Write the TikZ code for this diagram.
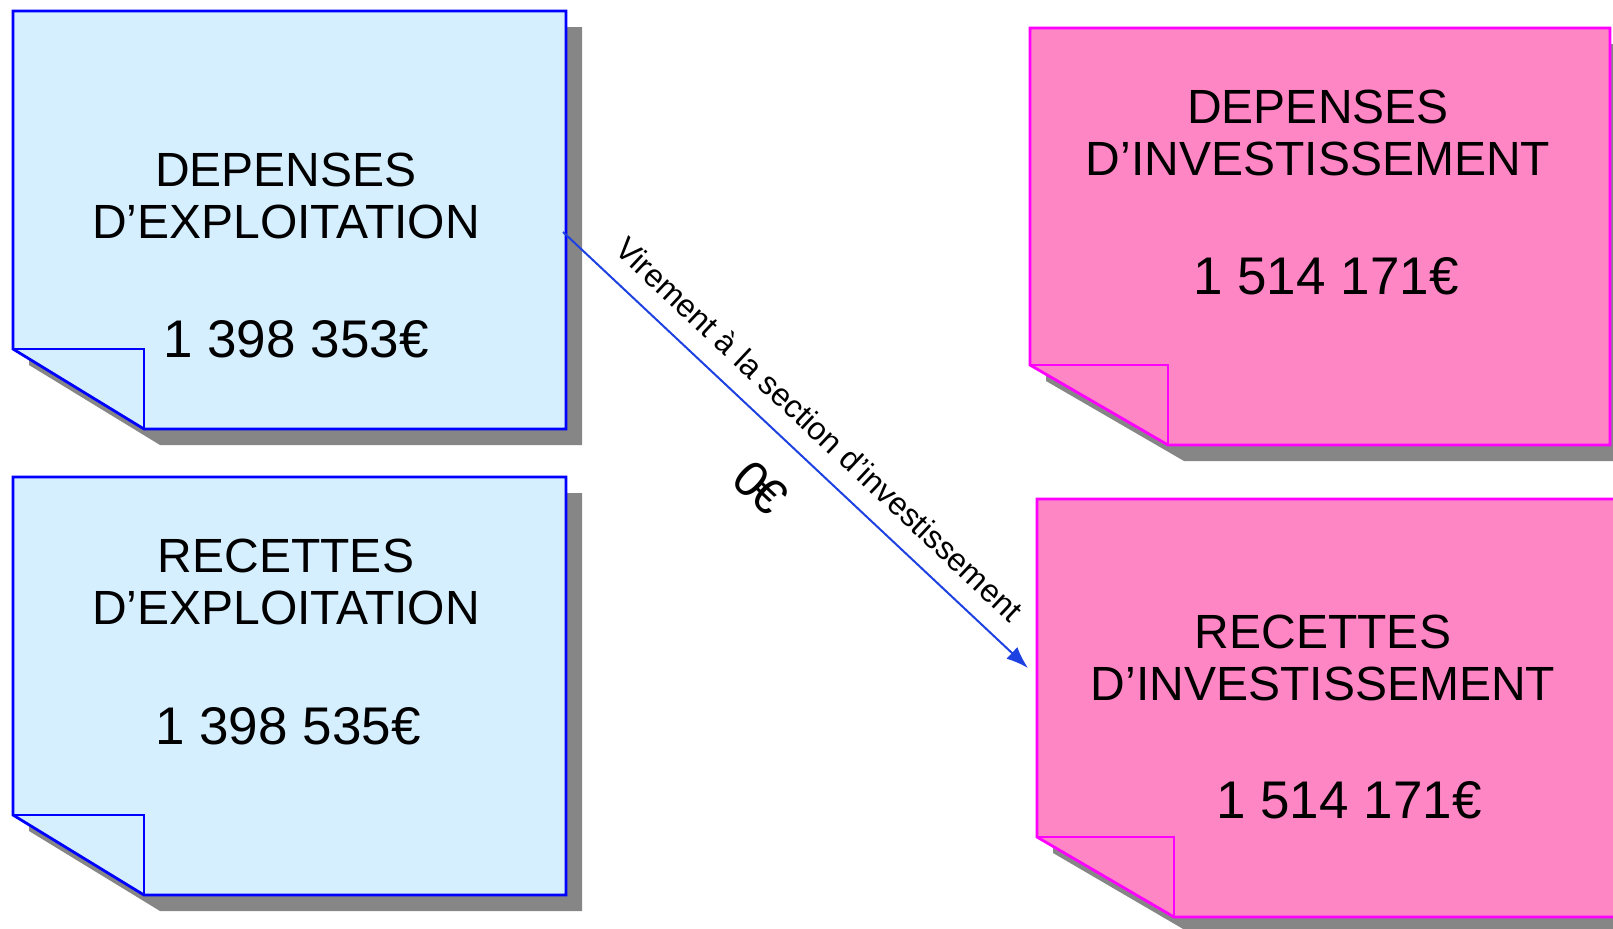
\documentclass[tikz,border=0pt]{standalone}
\usepackage{fontspec}
\setmainfont{Liberation Sans}
\usepackage{tikz}
\usetikzlibrary{calc,positioning,arrows.meta}

\definecolor{exploitfill}{RGB}{213,239,255}
\definecolor{exploitline}{RGB}{0,0,255}
\definecolor{investfill}{RGB}{255,134,197}
\definecolor{investline}{RGB}{255,0,255}
\definecolor{viremblue}{RGB}{30,65,225}

% sticky note: #1 fill, #2 line, #3 left, #4 top, #5 right, #6 bottom, #7 fold width
\newcommand{\stickynote}[7]{%
  \fill[gray!95] ({#3+16},{#4+16}) -- ({#5+16},{#4+16}) -- ({#5+16},{#6+16})
    -- ({#3+#7+16},{#6+16}) -- ({#3+16},{#6-80+16}) -- cycle;
  \filldraw[fill=#1,draw=#2,line width=1.4pt] (#3,#4) -- (#5,#4) -- (#5,#6)
    -- ({#3+#7},#6) -- (#3,{#6-80}) -- cycle;
  \draw[draw=#2,line width=1.4pt] (#3,{#6-80}) -- ({#3+#7},{#6-80}) -- ({#3+#7},#6);
}

\begin{document}
\begin{tikzpicture}[x=0.5pt,y=-0.5pt,
    title/.style={align=center,inner sep=0pt,font=\fontsize{24}{26.25}\selectfont},
    amount/.style={inner sep=0pt,font=\fontsize{26.5}{30}\selectfont},
    virement/.style={draw=viremblue,line width=1pt,-{Latex[length=11pt,width=8pt]}}]
  \useasboundingbox (0,0) rectangle (1613,928);

  \stickynote{exploitfill}{exploitline}{13}{11}{566}{429}{131}
  \stickynote{exploitfill}{exploitline}{13}{477}{566}{895}{131}
  \stickynote{investfill}{investline}{1030}{28}{1610}{445}{138}
  \stickynote{investfill}{investline}{1037}{499}{1617}{917}{137}

  \node[title] at (286,196) (depexp) {DEPENSES\\D’EXPLOITATION};
  \node[amount] at (296,339) (depexpval) {1 398 353€};
  \node[title] at (286,582) (recexp) {RECETTES\\D’EXPLOITATION};
  \node[amount] at (288,726) (recexpval) {1 398 535€};
  \node[title] at (1318,133) (depinv) {DEPENSES\\D’INVESTISSEMENT};
  \node[amount] at (1326,276) (depinvval) {1 514 171€};
  \node[title] at (1323,658) (recinv) {RECETTES\\D’INVESTISSEMENT};
  \node[amount] at (1349,800) (recinvval) {1 514 171€};

  \coordinate (virstart) at (563,232);
  \coordinate (virend) at (1028,668);
  \draw[virement] (virstart) -- (virend)
    node[pos=0.505,sloped,above=6pt,font=\fontsize{16}{19}\selectfont] (virlabel) {Virement à la section d’investissement}
    node[pos=0.5,sloped,below=13pt,font=\fontsize{25}{28}\selectfont] (virval) {0\kern-0.08em€};
\end{tikzpicture}
\end{document}
